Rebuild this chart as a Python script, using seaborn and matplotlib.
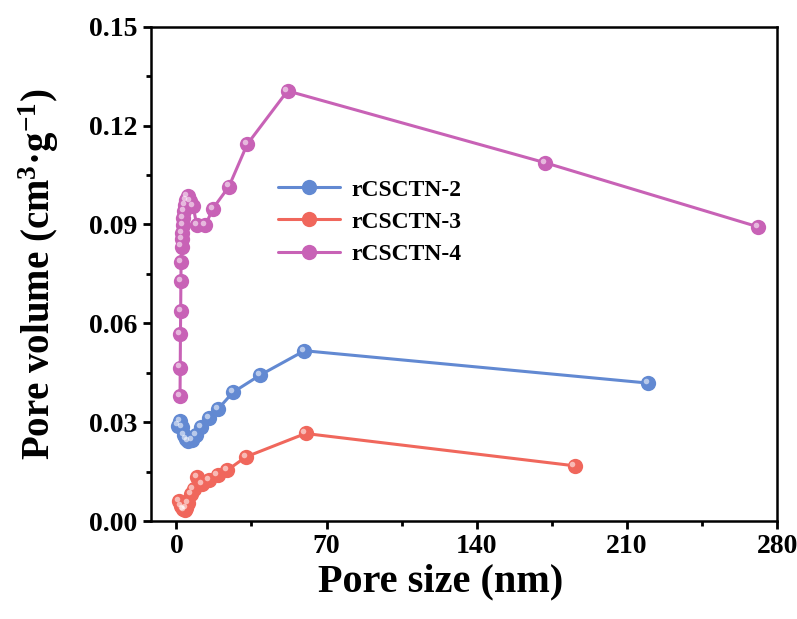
import numpy as np
import pandas as pd
import seaborn as sns
import matplotlib.pyplot as plt
from matplotlib.transforms import offset_copy

# data
labels = ['rCSCTN-2', 'rCSCTN-3', 'rCSCTN-4']
colors = ['#6289d2', '#f0675c', '#c862b6']

x2 = [0.7, 1.8, 2.5, 3.4, 4.4, 5.6, 7.2, 9.0, 11.4, 15.3, 19.4, 26.4, 39.0, 59.7, 219.7]
y2 = [0.0290, 0.0305, 0.0285, 0.0262, 0.0250, 0.0243, 0.0246, 0.0262, 0.0286, 0.0314, 0.0340, 0.0391, 0.0443, 0.0517, 0.0419]

x3 = [1.3, 2.2, 3.0, 3.8, 4.6, 5.5, 6.7, 8.0, 9.8, 12.0, 15.3, 19.2, 23.8, 32.4, 60.2, 185.6]
y3 = [0.0062, 0.0045, 0.0036, 0.0033, 0.0040, 0.0055, 0.0082, 0.0098, 0.0135, 0.0112, 0.0125, 0.0140, 0.0155, 0.0195, 0.0266, 0.0168]

x4 = [1.7, 1.8, 1.9, 2.0, 2.1, 2.2, 2.4, 2.6, 2.8, 3.0, 3.3, 3.6, 4.0, 4.5, 5.2, 6.2, 7.8, 9.5, 13.5, 17.0, 24.5, 33.0, 51.8, 172.0, 271.0]
y4 = [0.0380, 0.0466, 0.0568, 0.0638, 0.0728, 0.0785, 0.0833, 0.0855, 0.0875, 0.0898, 0.0920, 0.0940, 0.0958, 0.0975, 0.0985, 0.0970, 0.0955, 0.0898, 0.0897, 0.0948, 0.1015, 0.1143, 0.1305, 0.1087, 0.0893]

series = [(x2, y2), (x3, y3), (x4, y4)]

sns.set_style('ticks')
plt.rcParams['font.family'] = ['Liberation Serif']
plt.rcParams['font.weight'] = 'bold'
plt.rcParams['text.color'] = 'black'
plt.rcParams['axes.labelcolor'] = 'black'
plt.rcParams['axes.edgecolor'] = 'black'
plt.rcParams['xtick.color'] = 'black'
plt.rcParams['ytick.color'] = 'black'
plt.rcParams['mathtext.fontset'] = 'custom'
plt.rcParams['mathtext.rm'] = 'Liberation Serif:bold'
plt.rcParams['mathtext.it'] = 'Liberation Serif:bold'
plt.rcParams['mathtext.bf'] = 'Liberation Serif:bold'

fig = plt.figure(figsize=(7.97, 6.19), dpi=100)
ax = fig.add_axes([0.189, 0.158, 0.786, 0.799])

for (xs, ys), lab, col in zip(series, labels, colors):
    df = pd.DataFrame({'size': xs, 'volume': ys})
    sns.lineplot(data=df, x='size', y='volume', sort=False, estimator=None,
                 color=col, linewidth=2.2, marker='o', markersize=11,
                 markeredgewidth=0, label=lab, ax=ax)
    # small highlight to give the markers a shiny look
    hl = offset_copy(ax.transData, fig=fig, x=-1.5, y=1.5, units='points')
    ax.plot(xs, ys, linestyle='none', marker='o', markersize=4,
            color='white', alpha=0.55, markeredgewidth=0, transform=hl)

ax.set_xlim(-12, 280)
ax.set_ylim(0, 0.15)
ax.set_xticks([0, 70, 140, 210, 280])
ax.set_xticks([35, 105, 175, 245], minor=True)
ax.set_yticks([0.00, 0.03, 0.06, 0.09, 0.12, 0.15])
ax.set_yticks([0.015, 0.045, 0.075, 0.105, 0.135], minor=True)
ax.set_yticklabels(['0.00', '0.03', '0.06', '0.09', '0.12', '0.15'])

ax.tick_params(axis='both', which='major', direction='out', length=6, width=2, labelsize=20)
ax.tick_params(axis='both', which='minor', direction='out', length=3.5, width=2)
for sp in ax.spines.values():
    sp.set_visible(True)
    sp.set_linewidth(1.8)

ax.set_xlabel('Pore size (nm)', fontsize=29, fontweight='bold')
ax.xaxis.set_label_coords(0.463, -0.085)
ax.set_ylabel('Pore volume (cm$^3$·g$^{-1}$)', fontsize=28, fontweight='bold', labelpad=20)

ax.legend(loc='center left', bbox_to_anchor=(0.17, 0.605), frameon=False,
          prop={'size': 17, 'weight': 'bold'}, handlelength=2.6,
          handletextpad=0.5, labelspacing=0.45)

fig.savefig('out.png', dpi=100)
